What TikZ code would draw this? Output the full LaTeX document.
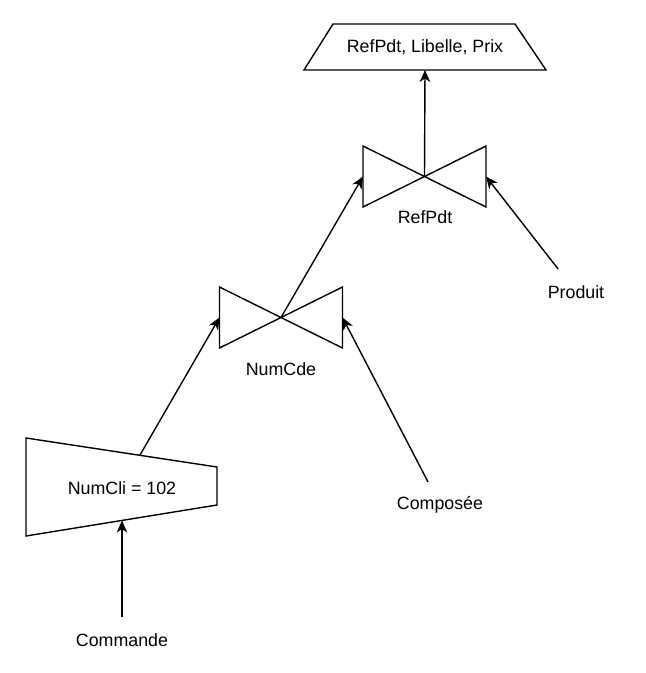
\documentclass[tikz,border=0pt]{standalone}
\usepackage{fontspec}
\setmainfont{Liberation Sans}
\usetikzlibrary{arrows.meta}
\begin{document}
\begin{tikzpicture}[x=1pt,y=-1pt,
  every node/.style={font=\fontsize{17.8}{21}\selectfont, inner sep=0pt, outer sep=0pt},
  shapeline/.style={draw=black, line width=1.4pt, line join=miter},
  arr/.style={draw=black, line width=1.4pt, -{Stealth[length=12pt,width=10.5pt,inset=3.5pt]}},
  lbl/.style={minimum width=90pt, minimum height=46pt},
  joinbox/.style={minimum width=123pt, minimum height=61pt}]
\useasboundingbox (0,0) rectangle (646,673);

% projection (top trapezoid)
\draw[shapeline] (333,24) -- (515,24) -- (546,70) -- (304,70) -- cycle;
\node[minimum width=242pt, minimum height=46pt] (proj) at (425,47) {RefPdt, Libelle, Prix};

% join RefPdt
\node[joinbox] (j1) at (424.5,176.5) {};
\draw[shapeline] (j1.north west) -- (j1.south east) -- (j1.north east) -- (j1.south west) -- cycle;
\node (j1lbl) at (425,217) {RefPdt};

% join NumCde
\node[joinbox] (j2) at (281,317.5) {};
\draw[shapeline] (j2.north west) -- (j2.south east) -- (j2.north east) -- (j2.south west) -- cycle;
\node (j2lbl) at (281,369) {NumCde};

% selection
\draw[shapeline] (26,438) -- (217,467) -- (217,505) -- (26,536) -- cycle;
\node (sel) at (122,488) {NumCli = 102};
\coordinate (selT) at (140,455);
\coordinate (selB) at (122,520.5);

% relations
\node[lbl] (commande) at (122,640) {Commande};
\node[lbl] (composee) at (440,505) {Composée};
\node[lbl] (produit) at (576,292) {Produit};

% connectors
\draw[arr] (commande) -- (selB);
\draw[arr] (selT) -- (j2.west);
\draw[arr] (composee) -- (j2.east);
\draw[arr] (j2.center) -- (j1.west);
\draw[arr] (produit) -- (j1.east);
\draw[arr] (j1.center) -- (proj.south);
\end{tikzpicture}
\end{document}
